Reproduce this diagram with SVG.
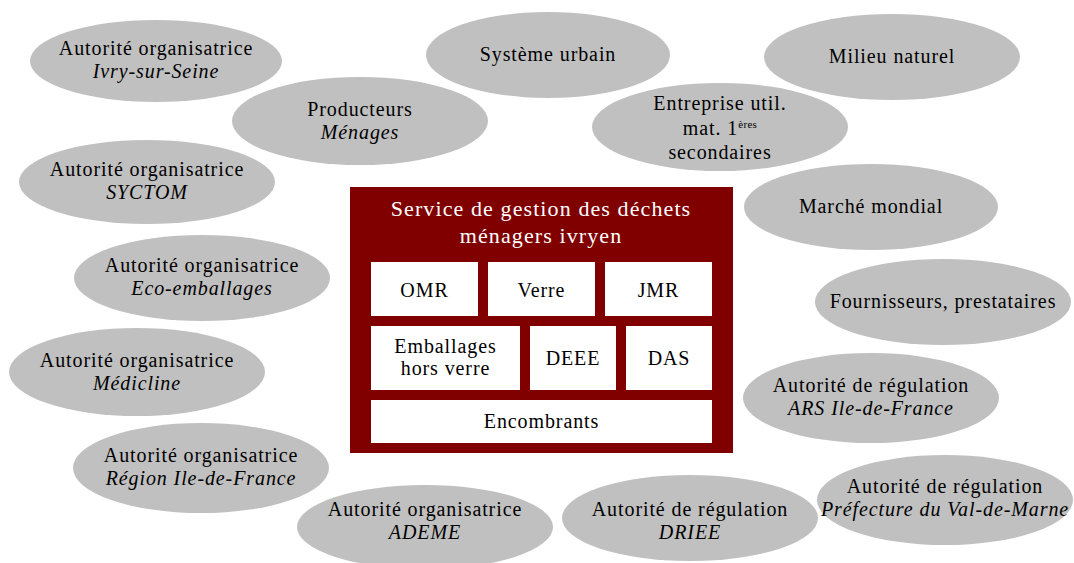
<svg xmlns="http://www.w3.org/2000/svg" width="1074" height="563" viewBox="0 0 1074 563">
<style>
.e{fill:#c0c0c0}
.t{font-family:"Liberation Serif","Times New Roman",serif;font-size:20px;letter-spacing:0.9px;fill:#000;text-anchor:middle}
.i{font-style:italic}
.b{fill:#fff}
.w{font-family:"Liberation Serif","Times New Roman",serif;font-size:22px;letter-spacing:1.1px;fill:#fff;text-anchor:middle}
</style>
<rect width="1074" height="563" fill="#fff"/>
<g id="n-ivry"><ellipse class="e" cx="156" cy="61" rx="126" ry="41"/><text class="t" x="156" y="55">Autorité organisatrice</text><text class="t i" x="156" y="78">Ivry-sur-Seine</text></g>
<g id="n-systeme"><ellipse class="e" cx="548" cy="55" rx="122" ry="43"/><text class="t" x="548" y="61">Système urbain</text></g>
<g id="n-milieu"><ellipse class="e" cx="892" cy="57" rx="128" ry="43"/><text class="t" x="892" y="63">Milieu naturel</text></g>
<g id="n-producteurs"><ellipse class="e" cx="360" cy="121" rx="128" ry="44"/><text class="t" x="360" y="116">Producteurs</text><text class="t i" x="360" y="139">Ménages</text></g>
<g id="n-entreprise"><ellipse class="e" cx="720" cy="127" rx="128" ry="44"/><text class="t" x="720" y="110">Entreprise util.</text><text class="t" x="720" y="135">mat. 1<tspan font-size="11" letter-spacing="0.3" dy="-7">ères</tspan></text><text class="t" x="720" y="159">secondaires</text></g>
<g id="n-syctom"><ellipse class="e" cx="147" cy="182" rx="128" ry="42"/><text class="t" x="147" y="176">Autorité organisatrice</text><text class="t i" x="147" y="199">SYCTOM</text></g>
<g id="n-marche"><ellipse class="e" cx="871" cy="207" rx="127" ry="43"/><text class="t" x="871" y="213">Marché mondial</text></g>
<g id="n-eco"><ellipse class="e" cx="202" cy="278" rx="128" ry="43"/><text class="t" x="202" y="272">Autorité organisatrice</text><text class="t i" x="202" y="295">Eco-emballages</text></g>
<g id="n-fournisseurs"><ellipse class="e" cx="943" cy="302" rx="128" ry="43"/><text class="t" x="943" y="308">Fournisseurs, prestataires</text></g>
<g id="n-medicline"><ellipse class="e" cx="137" cy="372" rx="128" ry="44"/><text class="t" x="137" y="367">Autorité organisatrice</text><text class="t i" x="137" y="390">Médicline</text></g>
<g id="n-ars"><ellipse class="e" cx="871" cy="398" rx="128" ry="45"/><text class="t" x="871" y="392">Autorité de régulation</text><text class="t i" x="871" y="415">ARS Ile-de-France</text></g>
<g id="n-region"><ellipse class="e" cx="201" cy="468" rx="128" ry="45"/><text class="t" x="201" y="462">Autorité organisatrice</text><text class="t i" x="201" y="485">Région Ile-de-France</text></g>
<g id="n-ademe"><ellipse class="e" cx="425" cy="527" rx="128" ry="42"/><text class="t" x="425" y="516">Autorité organisatrice</text><text class="t i" x="425" y="539">ADEME</text></g>
<g id="n-driee"><ellipse class="e" cx="690" cy="518" rx="128" ry="43"/><text class="t" x="690" y="516">Autorité de régulation</text><text class="t i" x="690" y="539">DRIEE</text></g>
<g id="n-prefecture"><ellipse class="e" cx="945" cy="500" rx="128" ry="45"/><text class="t" x="945" y="493">Autorité de régulation</text><text class="t i" x="945" y="516">Préfecture du Val-de-Marne</text></g>
<g id="n-service">
<rect x="350" y="187" width="383" height="266" fill="#800000"/>
<text class="w" x="541" y="216">Service de gestion des déchets</text>
<text class="w" x="541" y="243">ménagers ivryen</text>
<rect class="b" x="371" y="262" width="107" height="54"/><text class="t" x="424.5" y="297">OMR</text>
<rect class="b" x="488" y="262" width="107" height="54"/><text class="t" x="541.5" y="297">Verre</text>
<rect class="b" x="605" y="262" width="107" height="54"/><text class="t" x="658.5" y="297">JMR</text>
<rect class="b" x="371" y="326" width="149" height="64"/><text class="t" x="445.5" y="353">Emballages</text><text class="t" x="445.5" y="375">hors verre</text>
<rect class="b" x="530" y="326" width="86" height="64"/><text class="t" x="573" y="365">DEEE</text>
<rect class="b" x="626" y="326" width="86" height="64"/><text class="t" x="669" y="365">DAS</text>
<rect class="b" x="371" y="400" width="341" height="43"/><text class="t" x="541.5" y="428">Encombrants</text>
</g>
</svg>
